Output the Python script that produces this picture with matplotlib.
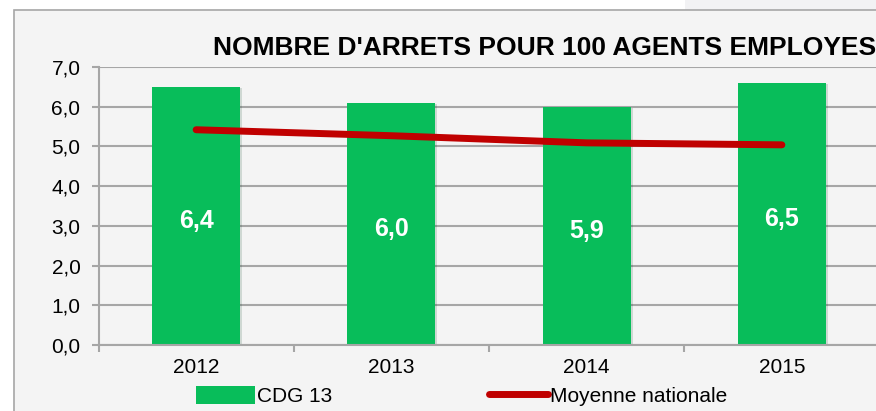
import numpy as np
import matplotlib.pyplot as plt
import matplotlib.patheffects as pe
from matplotlib.patches import Rectangle, Patch
from matplotlib.lines import Line2D

plt.rcParams['font.family'] = ['Liberation Sans', 'DejaVu Sans']

# donnees
years = ['2012', '2013', '2014', '2015']
cdg13 = [6.5, 6.1, 6.0, 6.6]
cdg13_labels = ['6,4', '6,0', '5,9', '6,5']
moyenne = [5.42, 5.27, 5.09, 5.04]
yticks = [0, 1, 2, 3, 4, 5, 6, 7]
ytick_labels = ['0,0', '1,0', '2,0', '3,0', '4,0', '5,0', '6,0', '7,0']

green = '#08BD5A'
red = '#C00000'
grey = '#A6A6A6'

W, H = 876, 411
fig = plt.figure(figsize=(W / 100, H / 100), dpi=100)
fig.patch.set_facecolor('white')

# fond gris du cadre du graphique
fig.patches.append(Rectangle((14 / W, -0.1), 1.2, (H - 10) / H + 0.1,
                             transform=fig.transFigure, facecolor='#F4F4F4',
                             edgecolor=grey, linewidth=1.2, zorder=-5))
# petite zone grise en haut a droite
fig.patches.append(Rectangle((685 / W, (H - 10) / H), 1, 0.1,
                             transform=fig.transFigure, facecolor='#F2F2F4',
                             edgecolor='none', zorder=-6))

ax = fig.add_axes([98.5 / W, (H - 345) / H, 781 / W, 278 / H])
ax.set_facecolor('none')
ax.set_zorder(1)

x = np.arange(len(years))
bars = ax.bar(x, cdg13, width=0.45, color=green, zorder=2)
for b in bars:
    b.set_path_effects([pe.SimplePatchShadow(offset=(1.5, -1), alpha=0.15),
                        pe.Normal()])
ax.plot(x, moyenne, color=red, lw=5, solid_capstyle='round', zorder=3)

for xi, h, lab in zip(x, cdg13, cdg13_labels):
    ax.text(xi, h / 2 - 0.12, lab, color='white', fontsize=18, fontweight='bold',
            ha='center', va='center', zorder=4)

ax.set_xlim(-0.5, len(years) - 0.5)
ax.set_ylim(0, 7)
ax.set_yticks(yticks)
ax.set_yticklabels(ytick_labels, fontsize=15)
ax.set_xticks(x)
ax.set_xticklabels(years, fontsize=15)
ax.set_xticks(np.append(x - 0.5, x[-1] + 0.5), minor=True)
ax.tick_params(axis='x', which='major', length=0, pad=9)
ax.tick_params(axis='x', which='minor', length=5, color=grey, width=1.5)
ax.tick_params(axis='y', length=5, color=grey, width=1.5, pad=8)
ax.yaxis.grid(True, color=grey, lw=1.5, zorder=1)
ax.set_axisbelow(True)
for s in ['top', 'right']:
    ax.spines[s].set_visible(False)
for s in ['left', 'bottom']:
    ax.spines[s].set_color(grey)
    ax.spines[s].set_linewidth(1.5)

fig.text(213 / W, 1 - 48 / H, "NOMBRE D'ARRETS POUR 100 AGENTS EMPLOYES",
         fontsize=19, fontweight='bold', ha='left', va='center')

handles = [Patch(facecolor=green, edgecolor='none'),
           Line2D([0], [0], color=red, lw=5, solid_capstyle='round')]
fig.legend(handles, ['CDG 13', 'Moyenne nationale'], loc='center left',
           bbox_to_anchor=(196 / W, 1 - 396 / H), ncol=2, frameon=False,
           fontsize=15, handlelength=2.85, handleheight=1.0, handletextpad=0.1,
           columnspacing=7.5, borderpad=0, borderaxespad=0)

fig.savefig('out.png', dpi=100)
